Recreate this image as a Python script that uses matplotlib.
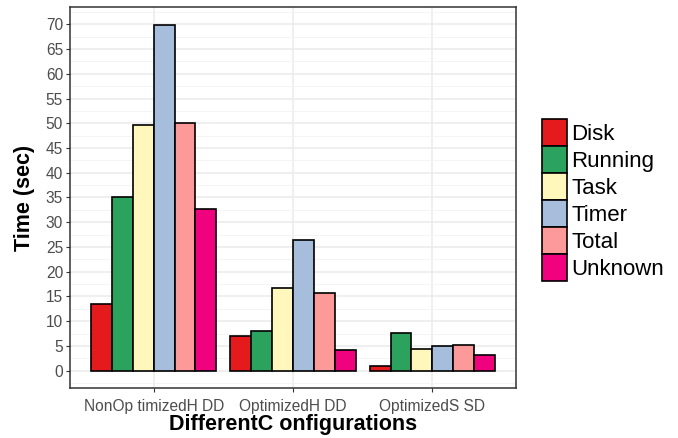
import numpy as np
import matplotlib.pyplot as plt
from matplotlib.patches import Patch

plt.rcParams['font.family'] = ['Liberation Sans', 'DejaVu Sans']

configs = ["NonOp timizedH DD", "OptimizedH DD", "OptimizedS SD"]
metrics = ["Disk", "Running", "Task", "Timer", "Total", "Unknown"]
disk = [13.5, 7.1, 0.9]
running = [35.1, 8.1, 7.6]
task = [49.6, 16.7, 4.3]
timer = [69.8, 26.4, 5.0]
total = [50.1, 15.6, 5.2]
unknown = [32.7, 4.2, 3.2]
series = [disk, running, task, timer, total, unknown]
colors = ["#E41A1C", "#2CA25F", "#FFF7BC", "#A6BDDB", "#FB9A99", "#F0027F"]

fig = plt.figure(figsize=(6.78, 4.38), dpi=100)
ax = fig.add_axes([70 / 678, 1 - 388 / 438, 446 / 678, 381 / 438])

x = np.arange(1, len(configs) + 1)
w = 0.15
for i, (vals, c) in enumerate(zip(series, colors)):
    ax.bar(x + (i - 2.5) * w, vals, width=w, color=c, edgecolor="black",
           linewidth=1.2, zorder=3)

ax.set_xlim(0.4, 3.6)
ax.set_ylim(-3.5, 73.5)
ax.set_yticks(np.arange(0, 71, 5))
ax.set_yticks(np.arange(-2.5, 73, 2.5), minor=True)
ax.set_xticks(x)
ax.set_xticklabels(configs)
ax.grid(True, which="major", color="#EBEBEB", linewidth=1.1, zorder=0)
ax.grid(True, which="minor", axis="y", color="#F3F3F3", linewidth=0.6, zorder=0)
ax.tick_params(which="minor", length=0)
ax.tick_params(which="major", length=3, color="#333333", labelsize=11.2,
               labelcolor="#4D4D4D", pad=2)
ax.tick_params(axis="x", which="major", pad=5)
for s in ax.spines.values():
    s.set_color("#333333")
    s.set_linewidth(1.1)

ax.set_ylabel("Time (sec)", fontsize=15.5, fontweight="bold", labelpad=8)
ax.set_xlabel("DifferentC onfigurations", fontsize=15.5, fontweight="bold", labelpad=0)

handles = [Patch(facecolor=c, edgecolor="black", linewidth=1.2, label=m)
           for m, c in zip(metrics, colors)]
fig.legend(handles=handles, loc="center left", bbox_to_anchor=(542 / 678, 1 - 200 / 438),
           frameon=False, fontsize=16, handlelength=1.12, handleheight=1.5,
           handletextpad=0.2, labelspacing=0.0, borderpad=0, borderaxespad=0)

fig.savefig("out.png", dpi=100)
